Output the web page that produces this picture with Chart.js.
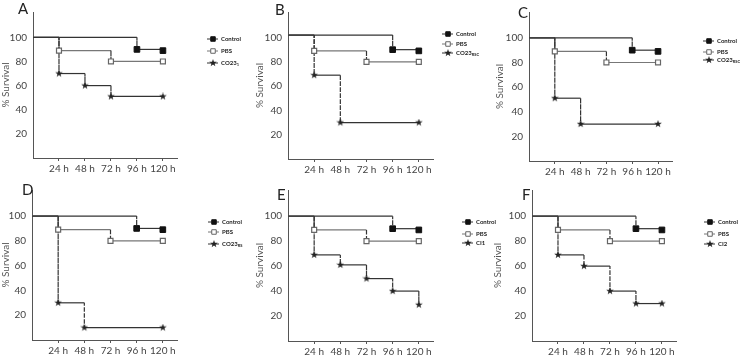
<!DOCTYPE html>
<html>
<head>
<meta charset="utf-8">
<script src="https://cdn.jsdelivr.net/npm/chart.js@4.4.1/dist/chart.umd.min.js"></script>
<style>
  body { margin: 0; background: #fff; }
  #wrap { position: relative; width: 740px; height: 356px; overflow: hidden; }
  canvas { position: absolute; }
</style>
</head>
<body>
<div id="wrap"></div>
<script>
// time points (hours) and tick labels
const hours = [0, 24, 48, 72, 96, 120];
const xTicks = [24, 48, 72, 96, 120];
const yTicks = [20, 40, 60, 80, 100];

// % survival at each time point
const controlA = [100, 100, 100, 100, 90, 89];
const pbsA = [100, 89, 89, 80, 80, 80];
const co23A = [100, 70, 60, 51, 51, 51];

const controlB = [102, 102, 102, 102, 90, 89];
const pbsB = [102, 89, 89, 80, 80, 80];
const co23B = [102, 69, 30, 30, 30, 30];

const controlC = [100, 100, 100, 100, 90, 89];
const pbsC = [100, 89, 89, 80, 80, 80];
const co23C = [100, 51, 30, 30, 30, 30];

const controlD = [100, 100, 100, 100, 90, 89];
const pbsD = [100, 89, 89, 80, 80, 80];
const co23D = [100, 30, 10, 10, 10, 10];

const controlE = [100, 100, 100, 100, 90, 89];
const pbsE = [100, 89, 89, 80, 80, 80];
const ci1E = [100, 69, 61, 50, 40, 29];

const controlF = [100, 100, 100, 100, 90, 89];
const pbsF = [100, 89, 89, 80, 80, 80];
const ci2F = [100, 69, 60, 40, 30, 30];

const letters = ['A', 'B', 'C', 'D', 'E', 'F'];
const thirdNames = ['CO23', 'CO23', 'CO23', 'CO23', 'CI1', 'CI2'];
const thirdSubs = ['1', 'RSC', 'RSC', 'RS', '', ''];

// panel boxes: canvas position/size and where the axes sit inside it
const layouts = [
  { x: 0,   y: 0,   w: 245, h: 178, padL: 0, left: 33, right: 177, top: 0, bottom: 158, lx: 18, ly: 14, kx: 207, ky: [39, 51, 63] },
  { x: 245, y: 0,   w: 245, h: 178, padL: 9, left: 43, right: 188, top: 0, bottom: 159, lx: 30, ly: 15, kx: 197, ky: [34, 44, 53] },
  { x: 490, y: 0,   w: 250, h: 178, padL: 4, left: 39, right: 182, top: 3, bottom: 161, lx: 28, ly: 18, kx: 213, ky: [41, 52, 60] },
  { x: 0,   y: 178, w: 245, h: 178, padL: 0, left: 32, right: 177, top: 1, bottom: 162, lx: 22, ly: 17, kx: 208, ky: [44, 54, 66] },
  { x: 245, y: 178, w: 255, h: 178, padL: 9, left: 43, right: 188, top: 5, bottom: 163, lx: 32, ly: 22, kx: 217, ky: [44, 56, 65] },
  { x: 490, y: 178, w: 250, h: 178, padL: 2, left: 42, right: 186, top: 6, bottom: 163, lx: 32, ly: 22, kx: 214, ky: [44, 56, 66] }
];

const series = [
  [controlA, pbsA, co23A],
  [controlB, pbsB, co23B],
  [controlC, pbsC, co23C],
  [controlD, pbsD, co23D],
  [controlE, pbsE, ci1E],
  [controlF, pbsF, ci2F]
];

Chart.defaults.font.family = 'Lato, "Open Sans", sans-serif';
Chart.defaults.color = '#444';

function starMark(size, color) {
  const c = document.createElement('canvas');
  c.width = c.height = size;
  const g = c.getContext('2d');
  g.fillStyle = color;
  g.beginPath();
  for (let i = 0; i < 10; i++) {
    const r = i % 2 ? size * 0.2 : size / 2;
    const a = -Math.PI / 2 + i * Math.PI / 5;
    g.lineTo(size / 2 + r * Math.cos(a), size / 2 + r * Math.sin(a));
  }
  g.closePath();
  g.fill();
  return c;
}
const star = starMark(8, '#222');

// Kaplan-Meier style steps: horizontal, then a drop at the event time
function steps(vals) {
  const pts = [{ x: hours[0], y: vals[0], mark: false }];
  for (let i = 1; i < hours.length; i++) {
    if (vals[i] !== vals[i - 1]) {
      pts.push({ x: hours[i], y: vals[i - 1], mark: false });
      pts.push({ x: hours[i], y: vals[i], mark: true });
    }
  }
  const n = hours.length - 1;
  if (vals[n] === vals[n - 1]) pts.push({ x: hours[n], y: vals[n], mark: true });
  return pts;
}

// letter + little key on the right, drawn on the canvas
const panelDecor = {
  id: 'panelDecor',
  afterDraw(chart, args, opts) {
    const ctx = chart.ctx;
    ctx.save();
    ctx.fillStyle = '#222';
    ctx.font = '15px Lato';
    ctx.textBaseline = 'alphabetic';
    ctx.fillText(opts.letter, opts.lx, opts.ly);
    chart.data.datasets.forEach((ds, i) => {
      const x = opts.kx, y = opts.ky[i];
      ctx.setLineDash([]);
      ctx.strokeStyle = ds.borderColor;
      ctx.lineWidth = 1;
      ctx.beginPath();
      ctx.moveTo(x, y);
      ctx.lineTo(x + 11, y);
      ctx.stroke();
      ctx.fillStyle = ds.pointBackgroundColor;
      ctx.strokeStyle = ds.pointBorderColor;
      Chart.helpers.drawPoint(ctx, { pointStyle: ds.pointStyle, radius: 3.2, borderWidth: ds.pointBorderWidth }, x + 6, y);
      ctx.fillStyle = '#222';
      ctx.font = 'bold 6px Lato';
      ctx.textBaseline = 'middle';
      ctx.fillText(ds.label, x + 14, y);
      if (ds.sub) {
        const w = ctx.measureText(ds.label).width;
        ctx.font = 'bold 4px Lato';
        ctx.fillText(ds.sub, x + 14 + w, y + 2);
      }
    });
    ctx.restore();
  }
};

const wrap = document.getElementById('wrap');

layouts.forEach((p, k) => {
  const cv = document.createElement('canvas');
  cv.width = p.w;
  cv.height = p.h;
  cv.style.left = p.x + 'px';
  cv.style.top = p.y + 'px';
  wrap.appendChild(cv);

  const [ctrl, pbs, third] = series[k];
  // drops are dashed, the flat parts solid
  const dash = c => c.p0.parsed.x === c.p1.parsed.x ? [3, 3] : undefined;
  const dropColor = c => c.p0.parsed.x === c.p1.parsed.x ? '#333' : undefined;

  new Chart(cv, {
    type: 'line',
    data: {
      datasets: [
        {
          label: 'Control',
          data: steps(ctrl),
          borderColor: '#333',
          borderWidth: 1.2,
          pointStyle: 'rect',
          pointBackgroundColor: '#111',
          pointBorderColor: '#111',
          pointBorderWidth: 1,
          pointRadius: c => c.raw && c.raw.mark ? 4 : 0,
          segment: { borderDash: dash, borderColor: dropColor }
        },
        {
          label: 'PBS',
          data: steps(pbs),
          borderColor: '#777',
          borderWidth: 1.2,
          pointStyle: 'rect',
          pointBackgroundColor: '#fff',
          pointBorderColor: '#666',
          pointBorderWidth: 1.2,
          pointRadius: c => c.raw && c.raw.mark ? 3.5 : 0,
          segment: { borderDash: dash, borderColor: dropColor }
        },
        {
          label: thirdNames[k],
          sub: thirdSubs[k],
          data: steps(third),
          borderColor: '#333',
          borderWidth: 1.2,
          pointStyle: star,
          pointBackgroundColor: '#222',
          pointBorderColor: '#222',
          pointBorderWidth: 0,
          pointRadius: c => c.raw && c.raw.mark ? 4 : 0,
          segment: { borderDash: dash, borderColor: dropColor }
        }
      ]
    },
    options: {
      responsive: false,
      animation: false,
      events: [],
      layout: { padding: { left: p.padL, right: p.w - p.right, top: p.top, bottom: 0 } },
      plugins: {
        legend: { display: false },
        tooltip: { enabled: false },
        panelDecor: { letter: letters[k], lx: p.lx, ly: p.ly, kx: p.kx, ky: p.ky }
      },
      scales: {
        x: {
          type: 'linear',
          min: 0,
          max: 133,
          afterFit: s => { s.height = p.h - p.bottom; },
          afterBuildTicks: s => { s.ticks = xTicks.map(v => ({ value: v })); },
          grid: { drawOnChartArea: false, drawTicks: true, tickLength: 3, color: '#555' },
          border: { color: '#555', width: 1 },
          ticks: { padding: 2, font: { size: 10 }, color: '#444', callback: v => v + ' h' }
        },
        y: {
          min: 0,
          max: 121,
          afterFit: s => { s.width = p.left - p.padL; },
          afterBuildTicks: s => { s.ticks = yTicks.map(v => ({ value: v })); },
          grid: { drawOnChartArea: false, drawTicks: false },
          border: { color: '#555', width: 1 },
          ticks: { padding: 6, font: { size: 10 }, color: '#444' },
          title: { display: true, text: '% Survival', padding: 0, font: { size: 10 }, color: '#555' }
        }
      }
    },
    plugins: [panelDecor]
  });
});
</script>
</body>
</html>
